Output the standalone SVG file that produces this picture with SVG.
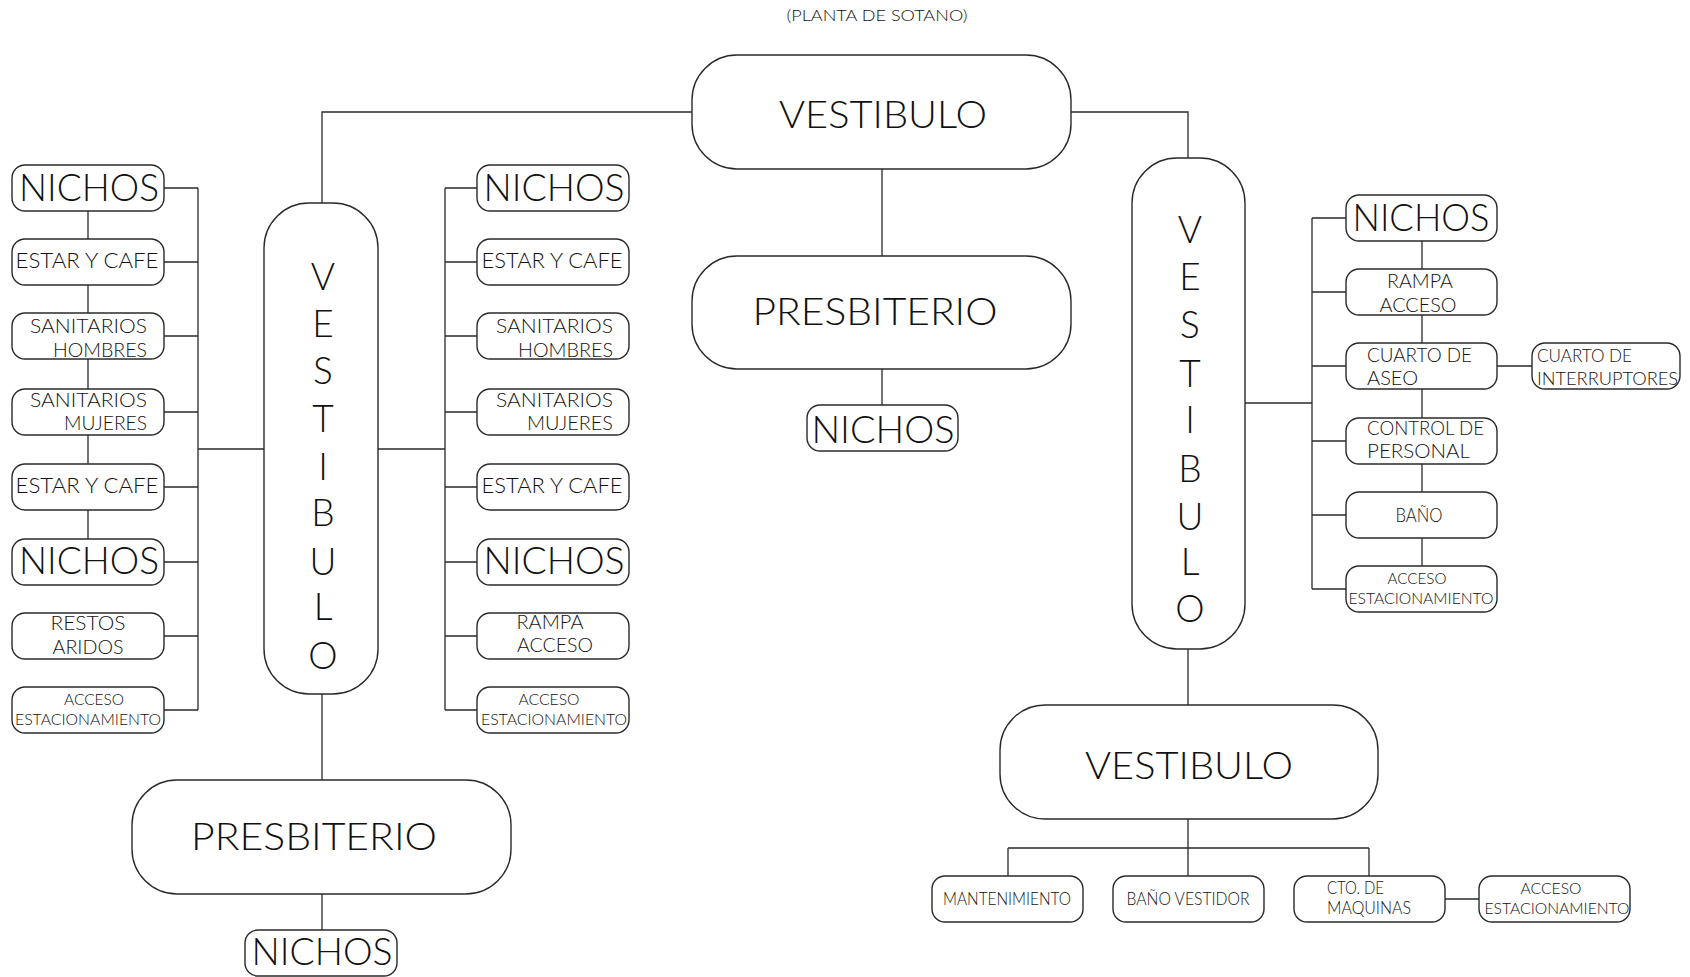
<svg xmlns="http://www.w3.org/2000/svg" width="1690" height="977" viewBox="0 0 1690 977">
<style>
.b{fill:#fff;stroke:#2a2a2a;stroke-width:1.4}
.c{fill:none;stroke:#2a2a2a;stroke-width:1.3}
text{font-family:Lato,"Liberation Sans",Arial,sans-serif;font-weight:300;fill:#111;}
.big{font-size:37px;text-anchor:middle}
.v{font-size:37px;text-anchor:middle}
.n{font-size:38px;text-anchor:middle}
.m{font-size:21px;text-anchor:middle}
.s{font-size:19px}
.e{text-anchor:end}
.mid{text-anchor:middle}
.x{font-size:16px;text-anchor:middle}
.t{font-size:17px}
</style>
<rect width="1690" height="977" fill="#fff"/>
<text x="877" y="21" class="x" textLength="181" lengthAdjust="spacingAndGlyphs">(PLANTA DE SOTANO)</text>

<g id="connectors">
<path class="c" d="M692 112H322V203M1071 112H1188V158M882 169V256M882 369V405"/>
<path class="c" d="M198 188V710M164 188H198M164 262H198M164 336H198M164 412H198M164 487H198M164 562H198M164 636H198M164 710H198M198 449H264"/>
<path class="c" d="M88 211V239M88 285V313M88 359V389M88 435V464M88 510V539"/>
<path class="c" d="M378 449H445M445 188V710M445 188H477M445 262H477M445 336H477M445 412H477M445 487H477M445 562H477M445 636H477M445 710H477"/>
<path class="c" d="M322 694V780M322 894V930"/>
<path class="c" d="M1245 403H1312M1312 218V589M1312 218H1346M1312 292H1346M1312 366H1346M1312 441H1346M1312 515H1346M1312 589H1346"/>
<path class="c" d="M1422 241V269M1422 315V343M1422 389V418M1422 463V492M1422 538V566M1497 366H1532"/>
<path class="c" d="M1188 649V705M1188 819V876M1008 848H1369M1008 848V876M1369 848V876M1445 899H1479"/>
</g>

<g id="vestibulo-top"><rect class="b" x="692" y="55" width="379" height="114" rx="45"/><text x="883" y="128" class="big" textLength="208" lengthAdjust="spacingAndGlyphs">VESTIBULO</text></g>
<g id="presbiterio-center"><rect class="b" x="692" y="256" width="379" height="113" rx="45"/><text x="875" y="325" class="big" textLength="245" lengthAdjust="spacingAndGlyphs">PRESBITERIO</text></g>
<g id="nichos-center"><rect class="b" x="807" y="405" width="151" height="46" rx="13"/><text x="883" y="443" class="n" textLength="143" lengthAdjust="spacingAndGlyphs">NICHOS</text></g>

<g id="vestibulo-left"><rect class="b" x="264" y="203" width="114" height="491" rx="45"/>
<text class="v" x="323" y="290">V</text><text class="v" x="323" y="337">E</text><text class="v" x="323" y="384">S</text><text class="v" x="323" y="432">T</text><text class="v" x="323" y="480">I</text><text class="v" x="323" y="526">B</text><text class="v" x="323" y="575">U</text><text class="v" x="323" y="620">L</text><text class="v" x="323" y="669">O</text></g>

<g id="l-nichos1"><rect class="b" x="12" y="165" width="152" height="46" rx="13"/><text x="89" y="201" class="n" textLength="140" lengthAdjust="spacingAndGlyphs">NICHOS</text></g>
<g id="l-estar1"><rect class="b" x="12" y="239" width="152" height="46" rx="13"/><text x="87" y="268" class="m" textLength="143" lengthAdjust="spacingAndGlyphs">ESTAR Y CAFE</text></g>
<g id="l-sanh"><rect class="b" x="12" y="313" width="152" height="46" rx="13"/><text x="147" y="333" class="s e" textLength="117" lengthAdjust="spacingAndGlyphs">SANITARIOS</text><text x="147" y="357" class="s e" textLength="94" lengthAdjust="spacingAndGlyphs">HOMBRES</text></g>
<g id="l-sanm"><rect class="b" x="12" y="389" width="152" height="46" rx="13"/><text x="147" y="407" class="s e" textLength="117" lengthAdjust="spacingAndGlyphs">SANITARIOS</text><text x="147" y="430" class="s e" textLength="83" lengthAdjust="spacingAndGlyphs">MUJERES</text></g>
<g id="l-estar2"><rect class="b" x="12" y="464" width="152" height="46" rx="13"/><text x="87" y="493" class="m" textLength="143" lengthAdjust="spacingAndGlyphs">ESTAR Y CAFE</text></g>
<g id="l-nichos2"><rect class="b" x="12" y="539" width="152" height="46" rx="13"/><text x="89" y="574" class="n" textLength="140" lengthAdjust="spacingAndGlyphs">NICHOS</text></g>
<g id="l-restos"><rect class="b" x="12" y="613" width="152" height="46" rx="13"/><text x="88" y="630" class="s mid" textLength="75" lengthAdjust="spacingAndGlyphs">RESTOS</text><text x="88" y="654" class="s mid" textLength="71" lengthAdjust="spacingAndGlyphs">ARIDOS</text></g>
<g id="l-acceso"><rect class="b" x="12" y="687" width="152" height="46" rx="13"/><text x="94" y="705" class="x" textLength="60" lengthAdjust="spacingAndGlyphs">ACCESO</text><text x="88" y="725" class="x" textLength="146" lengthAdjust="spacingAndGlyphs">ESTACIONAMIENTO</text></g>

<g id="m-nichos1"><rect class="b" x="477" y="165" width="152" height="46" rx="13"/><text x="554" y="201" class="n" textLength="141" lengthAdjust="spacingAndGlyphs">NICHOS</text></g>
<g id="m-estar1"><rect class="b" x="477" y="239" width="152" height="46" rx="13"/><text x="552" y="268" class="m" textLength="141" lengthAdjust="spacingAndGlyphs">ESTAR Y CAFE</text></g>
<g id="m-sanh"><rect class="b" x="477" y="313" width="152" height="46" rx="13"/><text x="613" y="333" class="s e" textLength="117" lengthAdjust="spacingAndGlyphs">SANITARIOS</text><text x="613" y="357" class="s e" textLength="95" lengthAdjust="spacingAndGlyphs">HOMBRES</text></g>
<g id="m-sanm"><rect class="b" x="477" y="389" width="152" height="46" rx="13"/><text x="613" y="407" class="s e" textLength="117" lengthAdjust="spacingAndGlyphs">SANITARIOS</text><text x="613" y="430" class="s e" textLength="86" lengthAdjust="spacingAndGlyphs">MUJERES</text></g>
<g id="m-estar2"><rect class="b" x="477" y="464" width="152" height="46" rx="13"/><text x="552" y="493" class="m" textLength="141" lengthAdjust="spacingAndGlyphs">ESTAR Y CAFE</text></g>
<g id="m-nichos2"><rect class="b" x="477" y="539" width="152" height="46" rx="13"/><text x="554" y="574" class="n" textLength="141" lengthAdjust="spacingAndGlyphs">NICHOS</text></g>
<g id="m-rampa"><rect class="b" x="477" y="613" width="152" height="46" rx="13"/><text x="550" y="629" class="s mid" textLength="67" lengthAdjust="spacingAndGlyphs">RAMPA</text><text x="555" y="652" class="s mid" textLength="76" lengthAdjust="spacingAndGlyphs">ACCESO</text></g>
<g id="m-acceso"><rect class="b" x="477" y="687" width="152" height="46" rx="13"/><text x="549" y="705" class="x" textLength="61" lengthAdjust="spacingAndGlyphs">ACCESO</text><text x="554" y="725" class="x" textLength="146" lengthAdjust="spacingAndGlyphs">ESTACIONAMIENTO</text></g>

<g id="presbiterio-left"><rect class="b" x="132" y="780" width="379" height="114" rx="45"/><text x="314" y="850" class="big" textLength="246" lengthAdjust="spacingAndGlyphs">PRESBITERIO</text></g>
<g id="nichos-bottom"><rect class="b" x="245" y="930" width="152" height="46" rx="13"/><text x="322" y="965" class="n" textLength="141" lengthAdjust="spacingAndGlyphs">NICHOS</text></g>

<g id="vestibulo-right"><rect class="b" x="1132" y="158" width="113" height="491" rx="45"/>
<text class="v" x="1190" y="243">V</text><text class="v" x="1190" y="290">E</text><text class="v" x="1190" y="338">S</text><text class="v" x="1190" y="387">T</text><text class="v" x="1190" y="433">I</text><text class="v" x="1190" y="482">B</text><text class="v" x="1190" y="530">U</text><text class="v" x="1190" y="575">L</text><text class="v" x="1190" y="622">O</text></g>

<g id="r-nichos"><rect class="b" x="1346" y="195" width="151" height="46" rx="13"/><text x="1421" y="231" class="n" textLength="137" lengthAdjust="spacingAndGlyphs">NICHOS</text></g>
<g id="r-rampa"><rect class="b" x="1346" y="269" width="151" height="46" rx="13"/><text x="1420" y="288" class="s mid" textLength="66" lengthAdjust="spacingAndGlyphs">RAMPA</text><text x="1418" y="312" class="s mid" textLength="77" lengthAdjust="spacingAndGlyphs">ACCESO</text></g>
<g id="r-aseo"><rect class="b" x="1346" y="343" width="151" height="46" rx="13"/><text x="1367" y="362" class="s" textLength="105" lengthAdjust="spacingAndGlyphs">CUARTO DE</text><text x="1367" y="385" class="s" textLength="51" lengthAdjust="spacingAndGlyphs">ASEO</text></g>
<g id="r-control"><rect class="b" x="1346" y="418" width="151" height="46" rx="13"/><text x="1367" y="435" class="s" textLength="117" lengthAdjust="spacingAndGlyphs">CONTROL DE</text><text x="1367" y="458" class="s" textLength="103" lengthAdjust="spacingAndGlyphs">PERSONAL</text></g>
<g id="r-bano"><rect class="b" x="1346" y="492" width="151" height="46" rx="13"/><text x="1419" y="522" class="s mid" textLength="47" lengthAdjust="spacingAndGlyphs">BAÑO</text></g>
<g id="r-acceso"><rect class="b" x="1346" y="566" width="151" height="46" rx="13"/><text x="1417" y="584" class="x" textLength="59" lengthAdjust="spacingAndGlyphs">ACCESO</text><text x="1421" y="604" class="x" textLength="145" lengthAdjust="spacingAndGlyphs">ESTACIONAMIENTO</text></g>
<g id="r-interruptores"><rect class="b" x="1532" y="343" width="148" height="46" rx="13"/><text x="1537" y="362" class="t" textLength="95" lengthAdjust="spacingAndGlyphs">CUARTO DE</text><text x="1537" y="385" class="t" textLength="141" lengthAdjust="spacingAndGlyphs">INTERRUPTORES</text></g>

<g id="vestibulo-bottom"><rect class="b" x="1000" y="705" width="378" height="114" rx="45"/><text x="1189" y="779" class="big" textLength="208" lengthAdjust="spacingAndGlyphs">VESTIBULO</text></g>
<g id="b-mant"><rect class="b" x="932" y="876" width="151" height="46" rx="13"/><text x="1007" y="905" class="t mid" textLength="128" lengthAdjust="spacingAndGlyphs">MANTENIMIENTO</text></g>
<g id="b-bano"><rect class="b" x="1113" y="876" width="151" height="46" rx="13"/><text x="1188" y="905" class="t mid" textLength="123" lengthAdjust="spacingAndGlyphs">BAÑO VESTIDOR</text></g>
<g id="b-maquinas"><rect class="b" x="1294" y="876" width="151" height="46" rx="13"/><text x="1327" y="894" class="t" textLength="57" lengthAdjust="spacingAndGlyphs">CTO. DE</text><text x="1327" y="914" class="t" textLength="84" lengthAdjust="spacingAndGlyphs">MAQUINAS</text></g>
<g id="b-acceso"><rect class="b" x="1479" y="876" width="151" height="46" rx="13"/><text x="1551" y="894" class="x" textLength="61" lengthAdjust="spacingAndGlyphs">ACCESO</text><text x="1557" y="914" class="x" textLength="145" lengthAdjust="spacingAndGlyphs">ESTACIONAMIENTO</text></g>
</svg>
